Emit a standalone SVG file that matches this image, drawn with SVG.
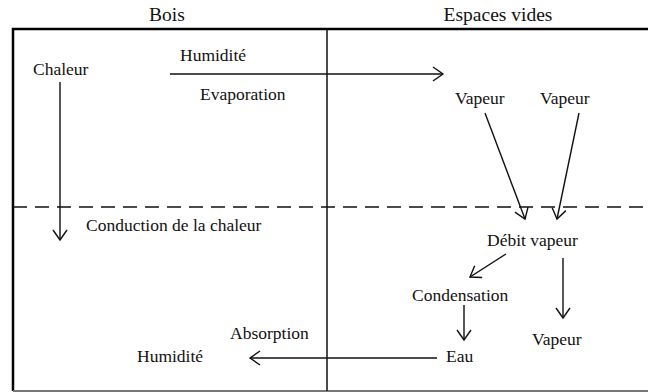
<svg xmlns="http://www.w3.org/2000/svg" width="648" height="392" viewBox="0 0 648 392">
<defs>
<style>
.t{font-family:'Liberation Serif','Times New Roman',serif;font-size:17.5px;fill:#111}
.h{font-size:19.5px}
.c{stroke:#111;stroke-width:1.4;fill:none}
.ah{stroke:#111;stroke-width:1.4;fill:none}
</style>
<marker id="a" markerWidth="14" markerHeight="16" refX="12" refY="8" orient="auto" markerUnits="userSpaceOnUse">
<path d="M2,1 L12,8 L2,15" class="ah"/>
</marker>
</defs>
<rect width="648" height="392" fill="#fff"/>
<g id="frame">
<path d="M13,391 V29 H650" stroke="#000" stroke-width="2.5" fill="none"/>
<line x1="13" y1="391" x2="648" y2="391" stroke="#777" stroke-width="2"/>
<line x1="327" y1="29" x2="327" y2="391" stroke="#111" stroke-width="1.5"/>
<line x1="13" y1="207" x2="648" y2="207" stroke="#111" stroke-width="1.3" stroke-dasharray="14,8"/>
</g>
<g id="headers">
<text class="t h" x="167" y="21" text-anchor="middle">Bois</text>
<text class="t h" x="498" y="21" text-anchor="middle">Espaces vides</text>
</g>
<g id="n-chaleur"><text class="t" x="33" y="75">Chaleur</text></g>
<g id="n-humidite1"><text class="t" x="180" y="61">Humidité</text></g>
<g id="n-evaporation"><text class="t" x="200" y="100">Evaporation</text></g>
<g id="n-vapeur1"><text class="t" x="455" y="104">Vapeur</text></g>
<g id="n-vapeur2"><text class="t" x="540" y="104">Vapeur</text></g>
<g id="n-conduction"><text class="t" x="86" y="231">Conduction de la chaleur</text></g>
<g id="n-debit"><text class="t" x="487" y="246">Débit vapeur</text></g>
<g id="n-condensation"><text class="t" x="412" y="301">Condensation</text></g>
<g id="n-vapeur3"><text class="t" x="532" y="345">Vapeur</text></g>
<g id="n-absorption"><text class="t" x="230" y="339">Absorption</text></g>
<g id="n-humidite2"><text class="t" x="137" y="362">Humidité</text></g>
<g id="n-eau"><text class="t" x="446" y="362">Eau</text></g>
<g id="connectors">
<line class="c" x1="60" y1="82" x2="60" y2="240" marker-end="url(#a)"/>
<line class="c" x1="170" y1="74" x2="443" y2="74" marker-end="url(#a)"/>
<line class="c" x1="485" y1="113" x2="525" y2="219" marker-end="url(#a)"/>
<line class="c" x1="579" y1="113" x2="557" y2="219" marker-end="url(#a)"/>
<line class="c" x1="506" y1="254" x2="470" y2="277" marker-end="url(#a)"/>
<line class="c" x1="563" y1="258" x2="563" y2="318" marker-end="url(#a)"/>
<line class="c" x1="464" y1="305" x2="464" y2="340" marker-end="url(#a)"/>
<line class="c" x1="437" y1="358" x2="250" y2="358" marker-end="url(#a)"/>
</g>
</svg>
